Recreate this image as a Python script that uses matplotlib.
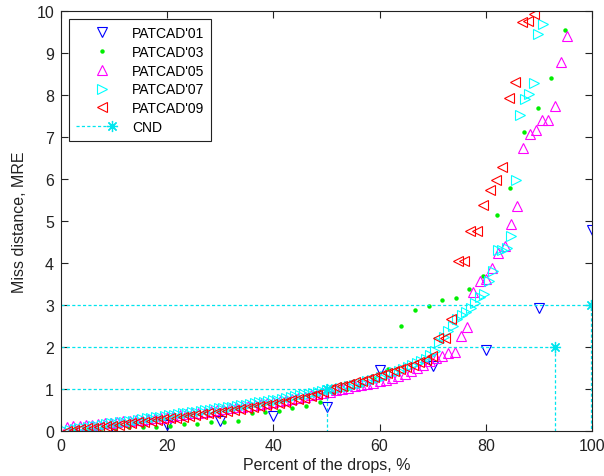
import numpy as np
import matplotlib
matplotlib.use("Agg")
import matplotlib.pyplot as plt
from matplotlib.lines import Line2D
from matplotlib.legend_handler import HandlerBase

plt.rcParams['font.family'] = ['Liberation Sans', 'DejaVu Sans']

# ---------------- data ----------------
# PATCAD'01 : percent of drops / miss distance (MRE)
p01_x = [10, 20, 30, 40, 50, 60, 70, 80, 90, 100]
p01_y = [0.04, 0.15, 0.25, 0.35, 0.57, 1.45, 1.55, 1.92, 2.92, 4.79]

# PATCAD'03 (39 drops)
p03_y = [0.02, 0.05, 0.06, 0.07, 0.09, 0.10, 0.10, 0.12, 0.17, 0.17,
         0.21, 0.21, 0.24, 0.43, 0.45, 0.48, 0.55, 0.59, 0.68, 0.90,
         1.00, 1.10, 1.25, 1.48, 2.49, 2.88, 2.98, 3.13, 3.16, 3.37,
         3.70, 5.15, 5.78, 7.13, 7.70, 8.40, 9.55, 10.8, 12.5]

# PATCAD'05 (85 drops)
p05_y = [0.10, 0.11, 0.13, 0.14, 0.15, 0.17, 0.18, 0.20, 0.21, 0.23,
         0.24, 0.26, 0.27, 0.29, 0.30, 0.32, 0.34, 0.36, 0.38, 0.40,
         0.42, 0.44, 0.46, 0.48, 0.50, 0.52, 0.54, 0.56, 0.58, 0.60,
         0.62, 0.64, 0.66, 0.69, 0.71, 0.74, 0.76, 0.79, 0.82, 0.85,
         0.88, 0.91, 0.94, 0.97, 1.00, 1.03, 1.06, 1.09, 1.12, 1.15,
         1.18, 1.22, 1.26, 1.30, 1.35, 1.42, 1.50, 1.58, 1.66, 1.75,
         1.79, 1.86, 1.89, 2.27, 2.48, 3.30, 3.58, 3.63, 3.87, 4.24,
         4.41, 4.93, 5.36, 6.75, 7.07, 7.17, 7.41, 7.41, 7.75, 8.79,
         9.40, 10.6, 11.5, 13.0, 16.0]

# PATCAD'07 (118 drops)
p07_y = [0.00, 0.02, 0.04, 0.06, 0.08, 0.10, 0.12, 0.13, 0.15, 0.16,
         0.18, 0.19, 0.21, 0.22, 0.24, 0.25, 0.27, 0.28, 0.30, 0.31,
         0.33, 0.34, 0.36, 0.37, 0.39, 0.40, 0.42, 0.43, 0.45, 0.46,
         0.48, 0.49, 0.51, 0.52, 0.54, 0.55, 0.57, 0.58, 0.60, 0.61,
         0.63, 0.64, 0.66, 0.68, 0.70, 0.71, 0.73, 0.75, 0.77, 0.79,
         0.81, 0.83, 0.85, 0.87, 0.89, 0.91, 0.93, 0.95, 0.97, 0.99,
         1.01, 1.03, 1.05, 1.08, 1.10, 1.12, 1.15, 1.18, 1.21, 1.24,
         1.28, 1.32, 1.36, 1.40, 1.44, 1.48, 1.52, 1.56, 1.61, 1.66,
         1.72, 1.80, 1.91, 2.11, 2.25, 2.39, 2.51, 2.67, 2.76, 2.83,
         2.94, 3.05, 3.19, 3.26, 3.58, 3.82, 4.30, 4.32, 4.35, 4.65,
         5.98, 7.53, 7.90, 8.02, 8.29, 9.45, 9.69, 10.5, 11.0, 11.5,
         12.0, 13.0, 14.0, 15.0, 17.0, 19.0, 22.0, 25.0]

# PATCAD'09 (83 drops)
p09_y = [0.00, 0.02, 0.04, 0.06, 0.08, 0.10, 0.11, 0.13, 0.15, 0.17,
         0.19, 0.21, 0.22, 0.24, 0.26, 0.28, 0.30, 0.32, 0.34, 0.36,
         0.38, 0.40, 0.42, 0.44, 0.46, 0.48, 0.50, 0.52, 0.54, 0.56,
         0.59, 0.62, 0.64, 0.67, 0.70, 0.73, 0.76, 0.79, 0.83, 0.88,
         0.93, 0.99, 1.04, 1.08, 1.12, 1.16, 1.20, 1.24, 1.28, 1.33,
         1.38, 1.43, 1.48, 1.53, 1.58, 1.64, 1.70, 1.78, 2.21, 2.21,
         2.67, 4.05, 4.05, 4.77, 4.77, 5.39, 5.74, 5.98, 6.28, 7.94,
         8.30, 9.75, 9.77, 9.93, 10.5, 11.0, 12.0, 13.0, 14.0, 15.0,
         17.0, 20.0, 25.0]

# CND reference points (percent, MRE)
cnd_x = [50.0, 93.0, 99.8]
cnd_y = [1.0, 2.0, 3.0]

labels = ["PATCAD'01", "PATCAD'03", "PATCAD'05", "PATCAD'07", "PATCAD'09", "CND"]
x_ticks = [0, 20, 40, 60, 80, 100]
y_ticks = [0, 1, 2, 3, 4, 5, 6, 7, 8, 9, 10]


def pct(vals):
    n = len(vals)
    return [100.0 * (i + 1) / n for i in range(n)]


# ---------------- figure ----------------
fig = plt.figure(figsize=(6.04, 4.77), dpi=100)
ax = fig.add_axes([61 / 604, 45 / 477, 531 / 604, 420 / 477])

ms = 6.5
mew = 0.8
h01, = ax.plot(p01_x, p01_y, linestyle='none', marker='v', ms=ms, mew=mew,
               mfc='none', mec='#0000ff')
h03, = ax.plot(pct(p03_y), p03_y, linestyle='none', marker='o', ms=3.2,
               mew=0, mfc='#00ee00', mec='#00ee00')
h05, = ax.plot(pct(p05_y), p05_y, linestyle='none', marker='^', ms=ms, mew=mew,
               mfc='none', mec='#ff00ff')
h07, = ax.plot(pct(p07_y), p07_y, linestyle='none', marker='>', ms=ms, mew=mew,
               mfc='none', mec='#00ffff')
h09, = ax.plot(pct(p09_y), p09_y, linestyle='none', marker='<', ms=ms, mew=mew,
               mfc='none', mec='#ff0000')

cnd_color = '#00e5ee'
dash = (0, (2.5, 1.8))
for cx, cy in zip(cnd_x, cnd_y):
    ax.plot([0, cx, cx], [cy, cy, 0], color=cnd_color, lw=0.9, linestyle=dash)
ax.plot(cnd_x, cnd_y, linestyle='none', marker=(8, 2, 0), ms=8, mew=0.9,
        color=cnd_color)

ax.set_xlim(0, 100)
ax.set_ylim(0, 10)
ax.set_xticks(x_ticks)
ax.set_yticks(y_ticks)
ax.tick_params(direction='in', top=True, right=True, length=5, width=0.8,
               labelsize=11.5, colors='#222222')
ax.tick_params(axis='x', pad=5)
ax.tick_params(axis='y', pad=5)
for s in ax.spines.values():
    s.set_linewidth(0.8)
    s.set_color('#222222')

ax.set_xlabel("Percent of the drops, %", fontsize=11.5, color='#222222',
              labelpad=3)
ax.set_ylabel("Miss distance, MRE", fontsize=11.5, color='#222222',
              labelpad=7)


class HandlerMarkerLine(HandlerBase):
    def __init__(self, with_line=False, frac=0.5, line_frac=0.8):
        super().__init__()
        self.with_line = with_line
        self.frac = frac
        self.line_frac = line_frac

    def create_artists(self, legend, orig_handle, xdescent, ydescent, width,
                       height, fontsize, trans):
        y = height / 2 - ydescent
        arts = []
        if self.with_line:
            ln = Line2D([-xdescent, -xdescent + width * self.line_frac], [y, y],
                        color=orig_handle.get_color(), lw=0.9,
                        linestyle=dash)
            ln.set_transform(trans)
            arts.append(ln)
        mk = Line2D([-xdescent + width * self.frac], [y], linestyle='none',
                    marker=orig_handle.get_marker(),
                    ms=orig_handle.get_markersize(),
                    mew=orig_handle.get_markeredgewidth(),
                    mfc=orig_handle.get_markerfacecolor(),
                    mec=orig_handle.get_markeredgecolor())
        mk.set_transform(trans)
        arts.append(mk)
        return arts


hcnd = Line2D([], [], color=cnd_color, marker=(8, 2, 0), ms=8, mew=0.9,
              mfc=cnd_color, mec=cnd_color)
handles = [h01, h03, h05, h07, h09, hcnd]
hmap = {h: HandlerMarkerLine(frac=0.67) for h in handles[:5]}
hmap[hcnd] = HandlerMarkerLine(with_line=True, frac=0.92, line_frac=0.8)
leg = ax.legend(handles, labels, loc='upper left', handler_map=hmap,
                fontsize=10, frameon=True, fancybox=False, framealpha=1,
                edgecolor='#222222', handlelength=2.8, handletextpad=1.2,
                labelspacing=0.34, borderaxespad=0.6, borderpad=0.5)
leg.get_frame().set_linewidth(0.8)

fig.savefig("out.png", dpi=100)
